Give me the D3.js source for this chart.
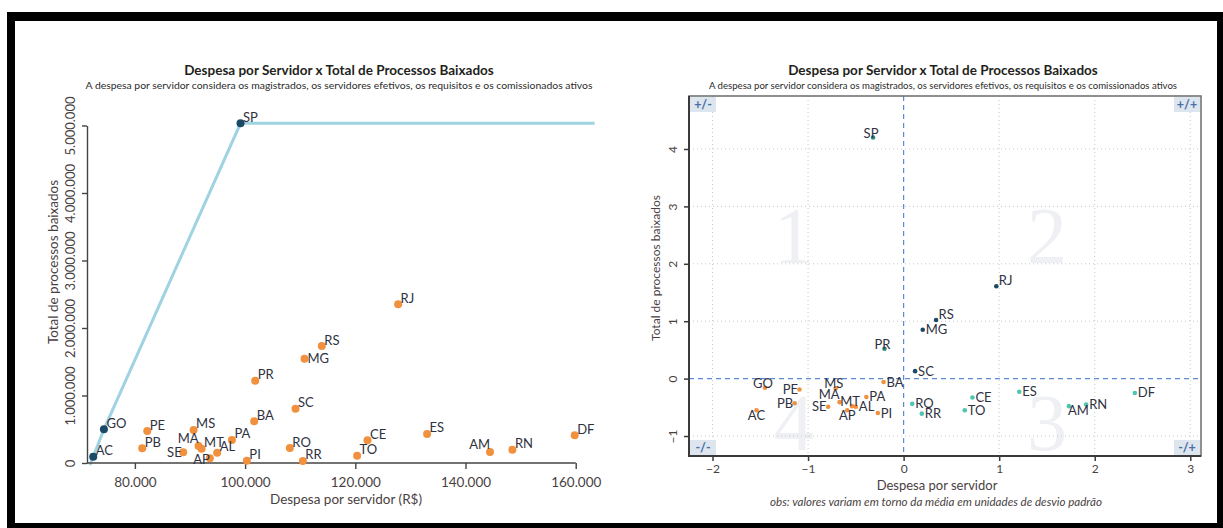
<!DOCTYPE html>
<html>
<head>
<meta charset="utf-8">
<script src="https://cdn.jsdelivr.net/npm/d3@7"></script>
<style>
body { margin: 0; background: #fff; }
text { font-family: Lato, 'DejaVu Sans', sans-serif; }
.title { font-size: 13.5px; font-weight: bold; fill: #231f20; }
.subtitle { font-size: 10px; fill: #2b2b2b; }
.tick text { font-family: Lato, sans-serif; fill: #4a3f3f; }
.axis-label { fill: #4a3f3f; }
.uf { fill: #2f3140; font-size: 13px; }
</style>
</head>
<body>
<div id="chart"></div>
<script>
const width = 1223, height = 528;

// unidades da federacao
const states = ['AC','AL','AM','AP','BA','CE','DF','ES','GO','MA','MG','MS','MT','PA',
                'PB','PE','PI','PR','RJ','RN','RO','RR','RS','SC','SE','SP','TO'];

// despesa por servidor (R$)
const despesa = [72436, 94930, 144450, 93600, 101650, 122210, 159820, 133030, 74377, 91550,
                 110780, 90650, 92100, 97600, 81330, 82240, 100320, 101830, 127770, 148510,
                 108120, 110480, 113920, 109150, 88760, 99170, 120330];

// total de processos baixados
const processos = [93000, 153000, 163000, 70000, 618000, 336000, 410000, 430000, 499000, 252000,
                   1545000, 489000, 212000, 341000, 218000, 474000, 34000, 1219000, 2351000, 197000,
                   222000, 30000, 1733000, 805000, 159000, 5033000, 108000];

// mesmos valores padronizados (desvios padrao)
const despesaZ = [-1.54, -0.50, 1.73, -0.59, -0.21, 0.72, 2.42, 1.21, -1.45, -0.67,
                  0.20, -0.71, -0.54, -0.39, -1.14, -1.09, -0.27, -0.20, 0.97, 1.91,
                  0.09, 0.19, 0.34, 0.12, -0.79, -0.32, 0.64];
const processosZ = [-0.55, -0.49, -0.48, -0.55, -0.06, -0.33, -0.25, -0.23, -0.16, -0.41,
                    0.85, -0.17, -0.48, -0.32, -0.43, -0.19, -0.60, 0.52, 1.61, -0.45,
                    -0.44, -0.61, 1.02, 0.13, -0.49, 4.20, -0.55];

// fronteira (AC, GO, SP)
const efficient = ['AC', 'GO', 'SP'];
const frontierX = [71850, 72436, 74377, 99170, 163440];
const frontierY = [-30000, 93000, 499000, 5033000, 5033000];

const xTicksL = [80000, 100000, 120000, 140000, 160000];
const yTicksL = [0, 1000000, 2000000, 3000000, 4000000, 5000000];
const xTicksR = [-2, -1, 0, 1, 2, 3];
const yTicksR = [-1, 0, 1, 2, 3, 4];

const quadNames = ['1', '2', '3', '4'];
const quadX = [-1.15, 1.5, 1.5, -1.15];
const quadY = [2.5, 2.5, -0.75, -0.75];
const cornerTags = ['+/-', '+/+', '-/-', '-/+'];

const titleText = 'Despesa por Servidor x Total de Processos Baixados';
const subtitleText = 'A despesa por servidor considera os magistrados, os servidores efetivos, os requisitos e os comissionados ativos';

// where each label sits relative to its dot
const leftLabelPos = {SE: 'left', MA: 'topleft', AP: 'bottomleft', AM: 'topleft', MG: 'right'};
const rightLabelPos = {SP: 'top', PR: 'top', GO: 'top', MS: 'top', MT: 'top', AC: 'bottom', AP: 'bottom',
                       AM: 'bottomright', PE: 'left', PB: 'left', MA: 'topleft', SE: 'left',
                       RS: 'topright', RJ: 'topright'};

const ptBr = d3.formatLocale({decimal: ',', thousands: '.', grouping: [3], currency: ['R$', '']});
const fmtL = ptBr.format(',');

const orange = '#f2913d', navy = '#1b4a68';
const quadColors = {q1: '#2f8a86', q2: '#1b4a68', q3: '#4fc4b3', q4: '#f2913d'};

function labelOffset(pos) {
    switch (pos) {
        case 'right': return {dx: 3, dy: 4.5, anchor: 'start'};
        case 'left': return {dx: -1.5, dy: 4.5, anchor: 'end'};
        case 'topleft': return {dx: 0, dy: -3, anchor: 'end'};
        case 'bottomleft': return {dx: 0, dy: 6, anchor: 'end'};
        case 'top': return {dx: -2, dy: 0, anchor: 'middle'};
        case 'bottom': return {dx: 0, dy: 10, anchor: 'middle'};
        case 'bottomright': return {dx: -1, dy: 9, anchor: 'start'};
        default: return {dx: 2.5, dy: -1.5, anchor: 'start'};
    }
}

const svg = d3.select('#chart').append('svg')
    .attr('width', width).attr('height', height);

// moldura preta
svg.append('rect').attr('x', 7).attr('y', 12).attr('width', width - 7).attr('height', 9).attr('fill', '#000');
svg.append('rect').attr('x', 7).attr('y', 12).attr('width', 8).attr('height', height - 12).attr('fill', '#000');
svg.append('rect').attr('x', 1217).attr('y', 12).attr('width', 6).attr('height', height - 12).attr('fill', '#000');
svg.append('rect').attr('x', 7).attr('y', 523).attr('width', width - 7).attr('height', 5).attr('fill', '#000');

function drawTitles(cx, subSize) {
    svg.append('text').attr('class', 'title')
        .attr('x', cx).attr('y', 75).attr('text-anchor', 'middle').text(titleText);
    svg.append('text').attr('class', 'subtitle')
        .attr('x', cx).attr('y', 89).attr('text-anchor', 'middle')
        .style('font-size', subSize + 'px').text(subtitleText);
}

/* ---------- grafico da esquerda ---------- */
function drawLeft() {
    const axisX = 87;
    const xScale = d3.scaleLinear().domain([70400, 163500]).range([82, 595]);
    const yScale = d3.scaleLinear().domain([0, 5000000]).range([463, 125.5]);

    drawTitles(339, 10.4);

    // fronteira
    const line = d3.line().x(d => xScale(d[0])).y(d => yScale(d[1]));
    svg.append('path')
        .datum(d3.zip(frontierX, frontierY))
        .attr('d', line)
        .attr('fill', 'none')
        .attr('stroke', '#9fd3e2')
        .attr('stroke-width', 3);

    // eixo y
    const yAx = svg.append('g')
        .attr('transform', 'translate(' + axisX + ',0)')
        .call(d3.axisLeft(yScale).tickValues(yTicksL).tickFormat(fmtL).tickSize(5).tickSizeOuter(0));
    yAx.attr('font-family', null).attr('font-size', null);
    yAx.selectAll('path, line').attr('stroke', '#444').attr('stroke-width', 1.4);
    yAx.selectAll('text')
        .attr('transform', 'rotate(-90)')
        .attr('x', 0).attr('y', -12).attr('dy', null)
        .attr('text-anchor', 'middle')
        .style('font-size', '13px');

    // eixo x
    const xAx = svg.append('g')
        .attr('transform', 'translate(0,' + yScale(0) + ')')
        .call(d3.axisBottom(xScale).tickValues(xTicksL).tickFormat(fmtL).tickSize(6).tickSizeOuter(0));
    xAx.attr('font-family', null).attr('font-size', null);
    xAx.select('.domain').remove();
    xAx.append('line')
        .attr('x1', axisX).attr('x2', xScale(xTicksL[xTicksL.length - 1]))
        .attr('stroke', '#444').attr('stroke-width', 1.4);
    xAx.selectAll('.tick line').attr('stroke', '#444').attr('stroke-width', 1.4);
    xAx.selectAll('text').attr('y', 14).style('font-size', '13.5px');

    svg.append('text').attr('class', 'axis-label')
        .attr('x', 346).attr('y', 504).attr('text-anchor', 'middle')
        .style('font-size', '13.5px')
        .text('Despesa por servidor (R$)');
    svg.append('text').attr('class', 'axis-label')
        .attr('transform', 'translate(58,262) rotate(-90)')
        .attr('text-anchor', 'middle')
        .style('font-size', '13.5px')
        .text('Total de processos baixados');

    // pontos
    const pts = svg.append('g');
    pts.selectAll('circle')
        .data(states)
        .enter()
        .append('circle')
        .attr('cx', (d, i) => xScale(despesa[i]))
        .attr('cy', (d, i) => yScale(processos[i]))
        .attr('r', 4)
        .attr('fill', d => efficient.includes(d) ? navy : orange);

    pts.selectAll('text')
        .data(states)
        .enter()
        .append('text')
        .attr('class', 'uf')
        .each(function(d, i) {
            const o = labelOffset(leftLabelPos[d] || 'topright');
            d3.select(this)
                .attr('x', xScale(despesa[i]) + o.dx)
                .attr('y', yScale(processos[i]) + o.dy)
                .attr('text-anchor', o.anchor);
        })
        .text(d => d);
}

/* ---------- grafico da direita ---------- */
function drawRight() {
    const xScale = d3.scaleLinear().domain([-2.246, 3.112]).range([689, 1201]);
    const yScale = d3.scaleLinear().domain([-1.348, 4.923]).range([456, 96]);
    const [x0, x1] = xScale.range();
    const [y1, y0] = yScale.range();

    drawTitles(943, 9.6);

    // numeros dos quadrantes
    svg.append('g').selectAll('text')
        .data(quadNames)
        .enter()
        .append('text')
        .attr('x', (d, i) => xScale(quadX[i]))
        .attr('y', (d, i) => yScale(quadY[i]))
        .attr('dy', '0.35em')
        .attr('text-anchor', 'middle')
        .style('font-family', "'Liberation Serif', 'DejaVu Serif', serif")
        .style('font-size', '80px')
        .attr('fill', '#eef0f4')
        .text(d => d);

    // grade pontilhada
    const grid = svg.append('g').attr('stroke', '#c9c9c9').attr('stroke-dasharray', '1,3');
    grid.selectAll('.gx').data(xTicksR.filter(v => v !== 0)).enter().append('line')
        .attr('x1', d => xScale(d)).attr('x2', d => xScale(d)).attr('y1', y0).attr('y2', y1);
    grid.selectAll('.gy').data(yTicksR.filter(v => v !== 0)).enter().append('line')
        .attr('y1', d => yScale(d)).attr('y2', d => yScale(d)).attr('x1', x0).attr('x2', x1);

    // linhas da media
    const zero = svg.append('g').attr('stroke', '#5b8bd4').attr('stroke-width', 1.2).attr('stroke-dasharray', '5,4');
    zero.append('line').attr('x1', xScale(0)).attr('x2', xScale(0)).attr('y1', y0).attr('y2', y1);
    zero.append('line').attr('y1', yScale(0)).attr('y2', yScale(0)).attr('x1', x0).attr('x2', x1);

    // cantos
    const tagW = 26, tagH = 15;
    const tagPos = [[x0 + 1, y0 + 1], [x1 - tagW - 1, y0 + 1], [x0 + 1, y1 - tagH - 1], [x1 - tagW - 1, y1 - tagH - 1]];
    const tags = svg.append('g').selectAll('g')
        .data(cornerTags)
        .enter()
        .append('g')
        .attr('transform', (d, i) => 'translate(' + tagPos[i][0] + ',' + tagPos[i][1] + ')');
    tags.append('rect').attr('width', tagW).attr('height', tagH).attr('fill', '#dde5ee');
    tags.append('text')
        .attr('x', tagW / 2).attr('y', 11.5)
        .attr('text-anchor', 'middle')
        .style('font-size', '12.5px').style('font-weight', 'bold')
        .attr('fill', '#4a6ea8')
        .text(d => d);

    // moldura
    svg.append('rect')
        .attr('x', x0).attr('y', y0).attr('width', x1 - x0).attr('height', y1 - y0)
        .attr('fill', 'none').attr('stroke', '#6b6b6b').attr('stroke-width', 1.5);
    svg.append('path')
        .attr('d', 'M' + x0 + ',' + y0 + 'V' + y1 + 'H' + x1)
        .attr('fill', 'none').attr('stroke', '#3a3a3a').attr('stroke-width', 2);

    // eixos
    const yAx = svg.append('g')
        .attr('transform', 'translate(' + x0 + ',0)')
        .call(d3.axisLeft(yScale).tickValues(yTicksR).tickFormat(d3.format('d')).tickSize(5));
    yAx.attr('font-family', null).attr('font-size', null);
    yAx.select('.domain').remove();
    yAx.selectAll('line').attr('stroke', '#3a3a3a').attr('stroke-width', 1.5);
    yAx.selectAll('text')
        .attr('transform', 'rotate(-90)')
        .attr('x', 0).attr('y', -12).attr('dy', null)
        .attr('text-anchor', 'middle')
        .style('font-size', '12px');

    const xAx = svg.append('g')
        .attr('transform', 'translate(0,' + y1 + ')')
        .call(d3.axisBottom(xScale).tickValues(xTicksR).tickFormat(d3.format('d')).tickSize(5));
    xAx.attr('font-family', null).attr('font-size', null);
    xAx.select('.domain').remove();
    xAx.selectAll('line').attr('stroke', '#3a3a3a').attr('stroke-width', 1.5);
    xAx.selectAll('text').attr('y', 8).style('font-size', '12px');

    svg.append('text').attr('class', 'axis-label')
        .attr('x', 937).attr('y', 490).attr('text-anchor', 'middle')
        .style('font-size', '13px')
        .text('Despesa por servidor');
    svg.append('text').attr('class', 'axis-label')
        .attr('x', 936).attr('y', 506).attr('text-anchor', 'middle')
        .style('font-size', '11.6px').style('font-style', 'italic')
        .text('obs: valores variam em torno da média em unidades de desvio padrão');
    svg.append('text').attr('class', 'axis-label')
        .attr('transform', 'translate(660,268) rotate(-90)')
        .attr('text-anchor', 'middle')
        .style('font-size', '12px')
        .text('Total de processos baixados');

    // pontos
    const quad = i => despesaZ[i] < 0
        ? (processosZ[i] > 0 ? 'q1' : 'q4')
        : (processosZ[i] > 0 ? 'q2' : 'q3');

    const pts = svg.append('g');
    pts.selectAll('circle')
        .data(states)
        .enter()
        .append('circle')
        .attr('cx', (d, i) => xScale(despesaZ[i]))
        .attr('cy', (d, i) => yScale(processosZ[i]))
        .attr('r', 2.3)
        .attr('fill', (d, i) => quadColors[quad(i)]);

    pts.selectAll('text')
        .data(states)
        .enter()
        .append('text')
        .attr('class', 'uf')
        .each(function(d, i) {
            const o = labelOffset(rightLabelPos[d] || 'right');
            d3.select(this)
                .attr('x', xScale(despesaZ[i]) + o.dx)
                .attr('y', yScale(processosZ[i]) + o.dy)
                .attr('text-anchor', o.anchor);
        })
        .text(d => d);
}

drawLeft();
drawRight();
</script>
</body>
</html>
